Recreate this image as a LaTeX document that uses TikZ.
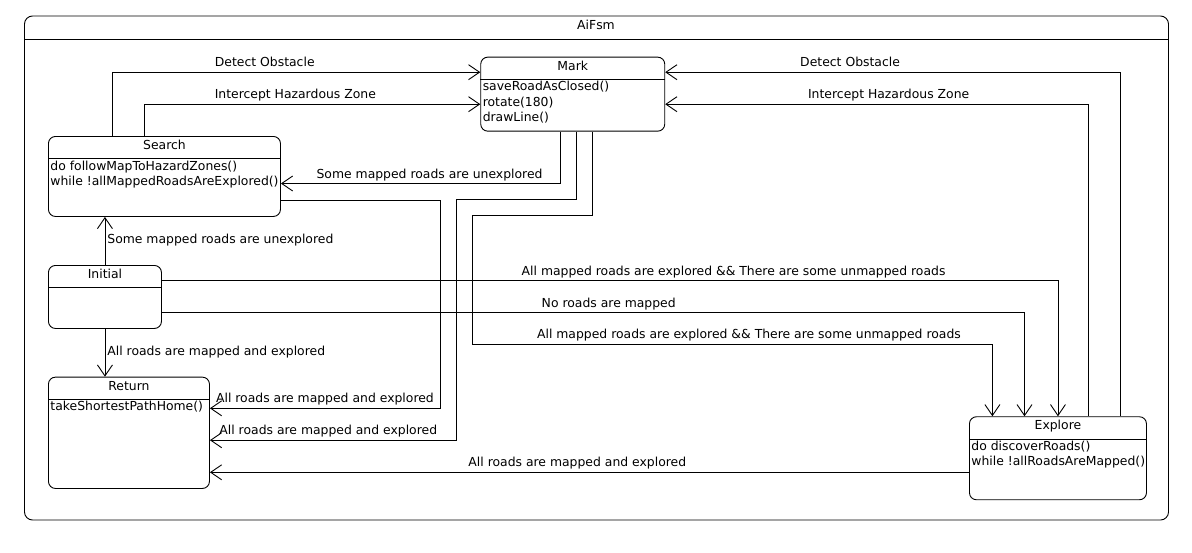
\documentclass[tikz,border=0pt]{standalone}
\usepackage{fontspec}
\setmainfont{DejaVu Sans}
\usetikzlibrary{arrows.meta}

\begin{document}
\begin{tikzpicture}[x=1pt, y=-1pt, line width=0.9pt,
    >={Straight Barb[length=11pt,width=15pt]},
    every node/.style={font=\fontsize{12.4}{15.5}\selectfont},
    state/.style={draw, rounded corners=7pt, anchor=north west, inner sep=0pt},
    title/.style={anchor=base, inner sep=0pt},
    body/.style={anchor=base west, align=left, inner sep=0pt},
    lbl/.style={inner sep=2pt, text height=9pt, text depth=3pt}]
    \useasboundingbox (0,0) rectangle (1192,552);

    % frame
    \draw[rounded corners=8pt] (24.5,16) rectangle (1168.5,520);
    \node[title] (fsm) at (596,29.5) {AiFsm};
    \draw (24.5,39) -- (1168.5,39);

    % states
    \node[state, minimum width=232pt, minimum height=80pt] (search) at (48,136) {};
    \node[state, minimum width=184pt, minimum height=74pt] (mark) at (480.3,56.7) {};
    \node[state, minimum width=113pt, minimum height=63pt] (initial) at (48,265) {};
    \node[state, minimum width=161pt, minimum height=111.3pt] (return) at (48,376.7) {};
    \node[state, minimum width=177pt, minimum height=83pt] (explore) at (969,416.3) {};

    \foreach \s/\t in {search/Search, mark/Mark, initial/Initial, return/Return, explore/Explore} {
        \node[title] at ([yshift=-13.5pt]\s.north) {\t};
        \draw ([yshift=-22.7pt]\s.north west) -- ([yshift=-22.7pt]\s.north east);
    }

    % base is the last line
    \node[body] at ([xshift=2pt,yshift=-49.5pt]search.north west) {do followMapToHazardZones()\\while !allMappedRoadsAreExplored()};
    \node[body] at ([xshift=2pt,yshift=-65pt]mark.north west) {saveRoadAsClosed()\\rotate(180)\\drawLine()};
    \node[body] at ([xshift=2pt,yshift=-34pt]return.north west) {takeShortestPathHome()};
    \node[body] at ([xshift=2pt,yshift=-49.5pt]explore.north west) {do discoverRoads()\\while !allRoadsAreMapped()};

    % transitions
    \draw[->] ([xshift=64.5pt]search.north west) |- ([yshift=-15.5pt]mark.north west) node[lbl, pos=0.707, above] {Detect Obstacle};
    \draw[->] ([xshift=96pt]search.north west) |- ([yshift=-47.5pt]mark.north west) node[lbl, pos=0.725, above] {Intercept Hazardous Zone};
    \draw[->] ([xshift=151.6pt]explore.north west) |- ([yshift=-15.5pt]mark.north east) node[lbl, pos=0.797, above] {Detect Obstacle};
    \draw[->] ([xshift=119.4pt]explore.north west) |- ([yshift=-47.5pt]mark.north east) node[lbl, pos=0.736, above] {Intercept Hazardous Zone};

    \draw[->] ([xshift=80pt]mark.south west) |- ([yshift=-47.5pt]search.north east) node[lbl, pos=0.734, above] {Some mapped roads are unexplored};
    \draw[->] ([xshift=95.7pt]mark.south west) |- (456.5,199.3) |- ([yshift=-63.5pt]return.north east) node[lbl, pos=0.76, above] {All roads are mapped and explored};
    \draw[->] ([xshift=111.7pt]mark.south west) |- (472.2,215.3) |- (992.4,344.3) node[lbl, pos=0.766, above] {All mapped roads are explored \&\& There are some unmapped roads} -- ([xshift=23.4pt]explore.north west);

    \draw[->] ([yshift=-64.3pt]search.north east) -| (440,408.3) -- ([yshift=-31.6pt]return.north east) node[lbl, midway, above] {All roads are mapped and explored};

    \draw[->] (initial.north) -- (initial.north |- search.south) node[lbl, midway, right] {Some mapped roads are unexplored};
    \draw[->] (initial.south) -- (initial.south |- return.north) node[lbl, midway, right] {All roads are mapped and explored};
    \draw[->] ([yshift=-15.6pt]initial.north east) -| (explore.north) node[lbl, pos=0.319, above] {All mapped roads are explored \&\& There are some unmapped roads};
    \draw[->] ([yshift=-47.5pt]initial.north east) -| ([xshift=55.5pt]explore.north west) node[lbl, pos=0.259, above] {No roads are mapped};

    \coordinate (e2r) at ([yshift=-56pt]explore.north west);
    \draw[->] (e2r) -- (e2r -| return.east) node[lbl, pos=0.516, above] {All roads are mapped and explored};
\end{tikzpicture}
\end{document}
